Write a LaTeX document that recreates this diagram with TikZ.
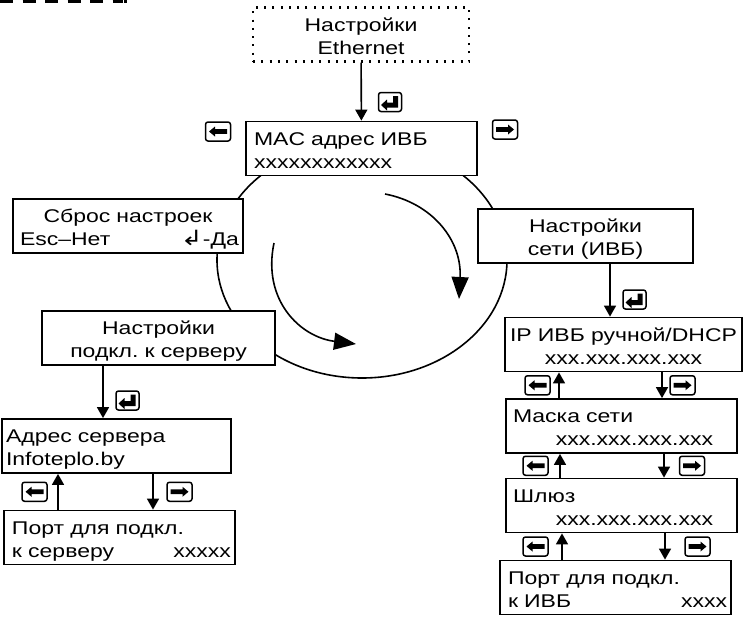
\documentclass[tikz,border=0pt]{standalone}
\usepackage{fontspec}
\setmainfont{Liberation Sans}[FakeStretch=1.25]
\newfontfamily\arrowfont{DejaVu Sans}[FakeStretch=1.25]
\usetikzlibrary{arrows.meta}
\frenchspacing
\newcommand{\rowlr}[2]{\makebox[\linewidth][s]{#1\hfill#2}}
\newcommand{\rowmid}[1]{\makebox[\linewidth][c]{#1}}
\newcommand{\rowr}[1]{\makebox[\linewidth][r]{#1}}

\begin{document}
\begin{tikzpicture}[x=1pt, y=-1pt,
    box/.style = {draw, fill=white, line width=1.8pt, inner xsep=4pt, inner ysep=2pt,
        text height=21.5pt, text depth=28.5pt, align=left,
        font=\fontsize{18.4}{23.3}\selectfont},
    dotbox/.style = {line width=2.3pt, dash pattern=on 2pt off 6.3pt},
    conn/.style = {line width=1.6pt, -{Triangle[length=11pt,width=12pt]}},
    turn/.style = {line width=1.6pt, -{Triangle[length=22pt,width=17pt]}},
    keyframe/.style = {draw, fill=white, line width=1.5pt, rounded corners=2.5pt},
    keyleft/.pic = {\draw[keyframe] (-12.5,-9.5) rectangle (12.5,9.5);
        \fill (-9,0) -- (-3,-5) -- (-3,-2.3) -- (9,-2.3) -- (9,2.3) -- (-3,2.3) -- (-3,5) -- cycle;},
    keyright/.pic = {\draw[keyframe] (-12.5,-9.5) rectangle (12.5,9.5);
        \fill (9,0) -- (3,-5) -- (3,-2.3) -- (-9,-2.3) -- (-9,2.3) -- (3,2.3) -- (3,5) -- cycle;},
    keyenter/.pic = {\draw[keyframe] (-11.5,-9.5) rectangle (11.5,9.5);
        \fill (-9,3) -- (-3,-2.5) -- (-3,0.5) -- (3,0.5) -- (3,-6) -- (8,-6) -- (8,5.5)
            -- (-3,5.5) -- (-3,8.5) -- cycle;}]
\useasboundingbox (0,0) rectangle (746,616);

% remains of a dashed line at the top
\draw[line width=3pt, dash pattern=on 13pt off 9.5pt] (0,1.5) -- (123,1.5);
\fill (124,0) rectangle (127,3);

% menu ring
\draw[line width=1.6pt] (362,260) ellipse [x radius=145, y radius=118];
\draw[turn] (385,194) .. controls (432,203) and (462,240) .. (459,299);
\draw[turn] (274,243) .. controls (262,300) and (300,337) .. (356,344);

    \node[box, dotbox, text width=208pt] (eth) at (361,34.5) {\rowmid{Настройки}\\\rowmid{Ethernet}};
    \node[box, inner xsep=8pt, text width=215pt] (mac) at (361.5,148.5) {MAC адрес ИВБ\\xxxxxxxxxxxx};
    \node[box, text width=222pt] (reset) at (128,226) {\rowmid{Сброс настроек}\\\rowlr{\hspace*{3pt}Esc–Нет}{{\arrowfont\fontsize{21}{23}\selectfont ↲}-Да}};
    \node[box, text width=225pt] (srv) at (158.5,338) {\rowmid{Настройки}\\\rowmid{подкл. к серверу}};
    \node[box, text width=221pt] (addr) at (116.5,446) {Адрес сервера\\Infoteplo.by};
    \node[box, text width=223pt] (srvport) at (119.5,537.5) {\hspace*{4pt}Порт для подкл.\\\rowlr{\hspace*{4pt}к серверу}{xxxxx}};
    \node[box, text width=207pt] (net) at (585.5,236) {\rowmid{Настройки}\\\rowmid{сети (ИВБ)}};
    \node[box, text width=229pt] (ip) at (623.5,344.5) {\rowmid{IP ИВБ ручной/DHCP}\\\rowmid{xxx.xxx.xxx.xxx}};
    \node[box, inner xsep=7pt, text width=217pt] (mask) at (621.5,426) {Маска сети\\\rowr{xxx.xxx.xxx.xxx\hspace{17pt}}};
    \node[box, inner xsep=7pt, text width=217pt] (gw) at (621.5,505.5) {Шлюз\\\rowr{xxx.xxx.xxx.xxx\hspace{17pt}}};
    \node[box, text width=223pt] (ivbport) at (615.5,587.5) {\hspace*{4pt}Порт для подкл.\\\rowlr{\hspace*{4pt}к ИВБ}{xxxx}};

\draw[conn] (eth) -- (mac);
\draw[conn] (610,0 |- net.south) -- (610,0 |- ip.north);
\draw[conn] (103,0 |- srv.south) -- (103,0 |- addr.north);

\pic at (390,102) {keyenter};
\pic at (634.5,299.5) {keyenter};
\pic at (127.5,400.5) {keyenter};
\pic at (218,131.5) {keyleft};
\pic at (505,129.5) {keyright};

\foreach \boxa/\boxb/\xup/\xdn/\xl/\xr in {addr/srvport/58/153/34.5/179.5,
        ip/mask/559/662/537.5/682.5, mask/gw/560/664/535.5/692, gw/ivbport/562/665/535.5/697.5} {
    \draw[conn] (\xup,0 |- \boxb.north) -- (\xup,0 |- \boxa.south);
    \draw[conn] (\xdn,0 |- \boxa.south) -- (\xdn,0 |- \boxb.north);
    \path (\boxa.south) -- (\boxb.north) coordinate[midway] (gap);
    \pic at (\xl,0 |- gap) {keyleft};
    \pic at (\xr,0 |- gap) {keyright};
}

\end{tikzpicture}
\end{document}
